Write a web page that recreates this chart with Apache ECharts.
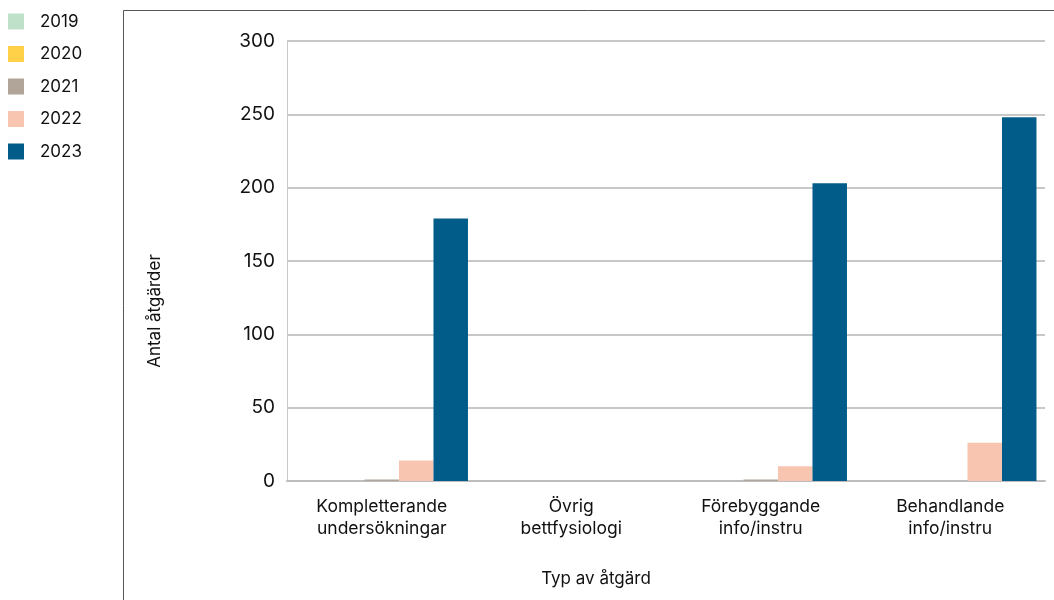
<!DOCTYPE html>
<html>
<head>
<meta charset="utf-8">
<script src="https://cdn.jsdelivr.net/npm/echarts@6/dist/echarts.min.js"></script>
<style>
  html, body { margin: 0; padding: 0; background: #fff; }
  #main { width: 1054px; height: 600px; }
</style>
</head>
<body>
<div id="main"></div>
<script>
var categories = ['Kompletterande\nundersökningar', 'Övrig\nbettfysiologi', 'Förebyggande\ninfo/instru', 'Behandlande\ninfo/instru'];
var years = ['2019', '2020', '2021', '2022', '2023'];
var values2019 = [0, 0, 0, 0];
var values2020 = [0, 0, 0, 0];
var values2021 = [1, 0, 1, 0];
var values2022 = [14, 0, 10, 26];
var values2023 = [179, 0, 203, 248];
var yearColors = ['#bfe1c9', '#ffd149', '#b1a59a', '#f8c5b0', '#025c8a'];

var myChart = echarts.init(document.getElementById('main'));
var allValues = [values2019, values2020, values2021, values2022, values2023];

var series = years.map(function (y, i) {
    return {
        name: y,
        type: 'bar',
        data: allValues[i],
        barGap: '0%',
        barCategoryGap: '9%',
        itemStyle: { color: yearColors[i] }
    };
});

var option = {
    textStyle: { fontFamily: 'Inter' },
    legend: {
        orient: 'vertical',
        left: 3,
        top: 8,
        itemWidth: 16,
        itemHeight: 16,
        itemGap: 15.5,
        icon: 'rect',
        textStyle: { fontSize: 17, color: '#111', padding: [0, 0, 0, 11] },
        data: years
    },
    graphic: [{
        type: 'polyline',
        shape: { points: [[123.5, 600], [123.5, 10.5], [1054, 10.5]] },
        style: { stroke: '#555', lineWidth: 1, fill: null }
    }, {
        // axis titles sit off-centre in the original
        type: 'text',
        x: 155,
        y: 311,
        rotation: Math.PI / 2,
        style: { text: 'Antal åtgärder', font: '17px Inter', fill: '#111', align: 'center', verticalAlign: 'middle' }
    }, {
        type: 'text',
        x: 596,
        y: 579,
        style: { text: 'Typ av åtgärd', font: '17px Inter', fill: '#111', align: 'center', verticalAlign: 'middle' }
    }],
    grid: { left: 287, right: 9, top: 41, bottom: 119 },
    xAxis: {
        type: 'category',
        data: categories,
        axisLine: { lineStyle: { color: '#bdbdbd', width: 2 } },
        axisTick: { inside: true, length: 11, lineStyle: { color: '#bdbdbd', width: 2 } },
        axisLabel: { interval: 0, fontSize: 17.5, color: '#111', lineHeight: 22, margin: 15 }
    },
    yAxis: {
        type: 'value',
        min: 0,
        max: 300,
        interval: 50,
        axisLine: { show: true, lineStyle: { color: '#c8c8c8', width: 1 } },
        axisTick: { show: false },
        axisLabel: { fontSize: 19, color: '#111', margin: 12 },
        splitLine: { lineStyle: { color: '#c8c8c8', width: 2 } }
    },
    series: series
};

myChart.setOption(option);
</script>
</body>
</html>
